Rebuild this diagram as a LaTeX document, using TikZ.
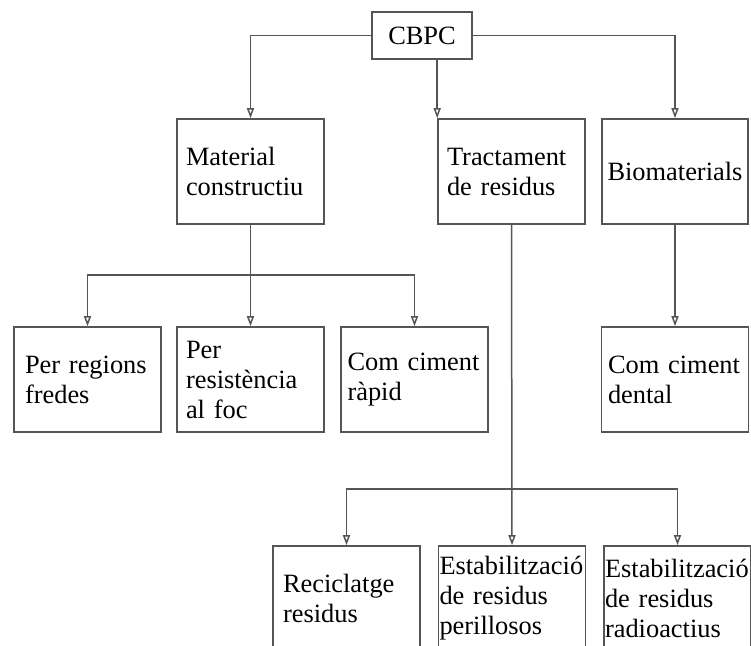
\documentclass[tikz,border=0pt]{standalone}
\usepackage{fontspec}
\setmainfont{Liberation Serif}
\usetikzlibrary{arrows.meta}
\hyphenpenalty=10000
\exhyphenpenalty=10000
\definecolor{linegray}{RGB}{85,85,85}
\tikzstyle{box} = [rectangle, draw=linegray, line width=1.6pt, align=left, text width=134pt, inner xsep=6.5pt, minimum height=105pt, font=\fontsize{26.4}{30}\selectfont]
\tikzstyle{widebox} = [box, text width=145pt, inner xsep=1pt]
\tikzstyle{arrow} = [draw=linegray, line width=1.5pt, -{Triangle[open,length=10pt,width=7pt]}]

\begin{document}
\begin{tikzpicture}[x=1pt,y=-1pt]
	\useasboundingbox (0,0) rectangle (751,645);
	\clip (0,0) rectangle (751,645);
	\node (cbpc) at (422,35.5) [rectangle, draw=linegray, line width=1.6pt, minimum width=100pt, minimum height=47pt, font=\fontsize{26.4}{30}\selectfont] {CBPC};
	% primer nivell
	\node (material) at (250.5,171.5) [box, inner xsep=9pt, text width=129pt] {Material\\constructiu};
	\node (tractament) at (511.5,171.5) [box, inner xsep=9pt, text width=129pt] {Tractament\\de residus};
	\node (bio) at (675,171.5) [box, text width=135pt, inner xsep=5.5pt] {Biomaterials};
	% segon nivell
	\node (regions) at (87.5,379.5) [box, inner xsep=11pt, text width=125pt] {Per regions\\fredes};
	\node (foc) at (250.5,379.5) [box, inner xsep=9pt, text width=129pt] {Per\\resistència\\al foc};
	\node (rapid) at (414.5,379.5) [box] {Com ciment\\ràpid};
	\node (dental) at (675,379.5) [box] {Com ciment\\dental};
	% tercer nivell
	\node (reciclatge) at (346.5,598.5) [box, inner xsep=10pt, text width=127pt] {Reciclatge\\residus};
	\node (perillosos) at (512,598.5) [widebox] {Estabilització\\de residus\\perillosos};
	\node (radioactius) at (677.5,598.5) [widebox] {Estabilització\\de residus\\radioactius};
	\coordinate (splitA) at (250.5,275);
	\coordinate (splitB) at (512,489);
	\draw[arrow] (cbpc.west) -| (material.north);
	\draw[arrow] (cbpc.east) -| (bio.north);
	\draw[arrow] (cbpc.south -| tractament.north west) -- (tractament.north west);
	\draw[arrow] (material.south) -- (foc.north);
	\draw[arrow] (splitA) -| (regions.north);
	\draw[arrow] (splitA) -| (rapid.north);
	\draw[arrow] (bio.south) -- (dental.north);
	\draw[arrow] (tractament.south) -- (perillosos.north);
	\draw[arrow] (splitB) -| (reciclatge.north);
	\draw[arrow] (splitB) -| (radioactius.north);
\end{tikzpicture}
\end{document}
